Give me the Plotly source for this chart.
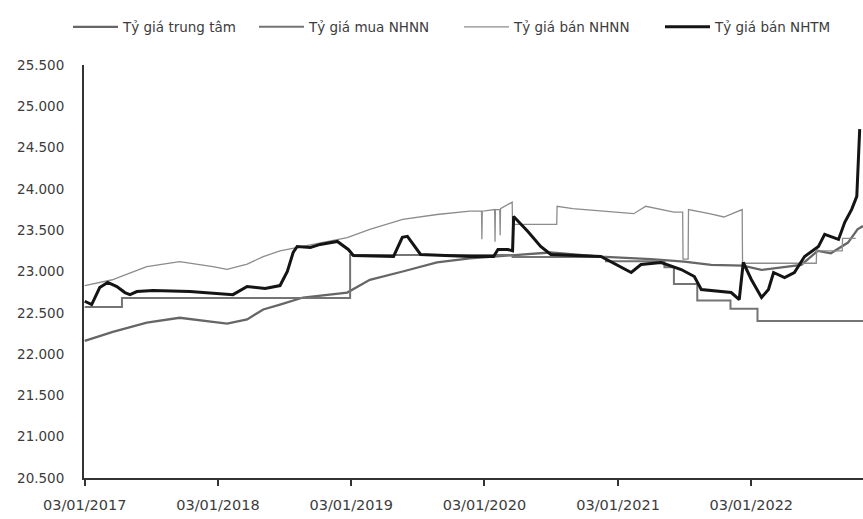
import plotly.graph_objects as go

# ---------------- data ----------------
series_names = ["Tỷ giá trung tâm", "Tỷ giá mua NHNN", "Tỷ giá bán NHNN", "Tỷ giá bán NHTM"]

central_dates = ["2017-01-03", "2017-03-21", "2017-06-22", "2017-09-20", "2017-12-20", "2018-01-28",
                 "2018-03-24", "2018-05-07", "2018-06-22", "2018-08-24", "2018-12-23", "2019-02-23",
                 "2019-05-24", "2019-08-26", "2019-11-24", "2020-03-22", "2020-07-01", "2020-11-16",
                 "2021-04-03", "2021-07-03", "2021-09-15", "2021-12-10", "2022-01-31", "2022-05-20",
                 "2022-07-04", "2022-08-09", "2022-09-25", "2022-10-21", "2022-11-05"]
central_vals = [22160, 22270, 22380, 22440, 22390, 22370,
                22420, 22540, 22600, 22685, 22745, 22900,
                23000, 23110, 23160, 23200, 23230, 23180,
                23150, 23120, 23080, 23070, 23020, 23080,
                23250, 23220, 23350, 23510, 23550]

buy_dates = ["2017-01-03", "2017-04-15", "2018-12-31", "2020-03-20", "2020-12-01", "2021-05-10",
             "2021-06-05", "2021-08-08", "2021-11-07", "2022-01-20", "2022-11-05"]
buy_vals = [22570, 22680, 23200, 23175, 23125, 23050,
            22850, 22650, 22550, 22400, 22400]

sell_dates = ["2017-01-03", "2017-03-20", "2017-04-13", "2017-06-22", "2017-09-20", "2017-12-20",
              "2018-01-28", "2018-03-24", "2018-05-07", "2018-06-22", "2018-12-23", "2019-02-23",
              "2019-05-24", "2019-08-26", "2019-11-24", "2019-12-26", "2019-12-27", "2019-12-28",
              "2020-01-31", "2020-02-01", "2020-02-02", "2020-02-14", "2020-02-15", "2020-02-16",
              "2020-03-19", "2020-03-20", "2020-07-19", "2020-07-20", "2020-09-01", "2020-12-01",
              "2021-02-15", "2021-03-20", "2021-06-05", "2021-06-29", "2021-06-30", "2021-07-14",
              "2021-07-15", "2021-09-10", "2021-10-20", "2021-12-09", "2021-12-10", "2022-06-30",
              "2022-07-01", "2022-09-09", "2022-09-10", "2022-10-16"]
sell_vals = [22830, 22900, 22940, 23060, 23120, 23060,
             23025, 23090, 23180, 23250, 23410, 23510,
             23630, 23690, 23730, 23730, 23390, 23730,
             23750, 23360, 23750, 23750, 23440, 23760,
             23840, 23570, 23570, 23790, 23760, 23730,
             23700, 23790, 23720, 23720, 23150, 23150,
             23750, 23700, 23660, 23750, 23100, 23100,
             23250, 23250, 23400, 23400]

nhtm_dates = ["2017-01-03", "2017-01-22", "2017-02-13", "2017-03-07", "2017-04-01", "2017-04-23",
              "2017-05-07", "2017-05-26", "2017-07-09", "2017-10-18", "2018-02-13", "2018-03-24",
              "2018-05-12", "2018-06-22", "2018-07-12", "2018-07-28", "2018-08-08", "2018-09-13",
              "2018-10-10", "2018-11-26", "2018-12-26", "2019-01-09", "2019-04-29", "2019-05-23",
              "2019-06-06", "2019-07-12", "2019-11-26", "2020-01-28", "2020-02-09", "2020-03-07",
              "2020-03-20", "2020-03-23", "2020-05-01", "2020-06-05", "2020-07-03", "2020-11-17",
              "2021-02-08", "2021-03-07", "2021-05-01", "2021-06-25", "2021-07-31", "2021-08-19",
              "2021-11-09", "2021-12-01", "2021-12-12", "2022-01-03", "2022-01-31", "2022-02-19",
              "2022-03-05", "2022-04-04", "2022-05-01", "2022-05-29", "2022-07-06", "2022-07-23",
              "2022-08-30", "2022-09-16", "2022-10-05", "2022-10-19", "2022-10-27"]
nhtm_vals = [22640, 22600, 22806, 22867, 22818, 22745,
             22720, 22757, 22770, 22757, 22720, 22818,
             22795, 22830, 23000, 23230, 23303, 23291,
             23328, 23364, 23267, 23194, 23182, 23413,
             23425, 23206, 23182, 23182, 23267, 23267,
             23250, 23667, 23485, 23303, 23206, 23182,
             22988, 23085, 23109, 23024, 22939, 22782,
             22745, 22660, 23109, 22903, 22685, 22782,
             22988, 22927, 22988, 23182, 23303, 23449,
             23388, 23595, 23752, 23910, 24723]

y_tick_vals = [20500, 21000, 21500, 22000, 22500, 23000, 23500, 24000, 24500, 25000, 25500]
y_tick_text = ["20.500", "21.000", "21.500", "22.000", "22.500", "23.000",
               "23.500", "24.000", "24.500", "25.000", "25.500"]
x_tick_vals = ["2017-01-03", "2018-01-03", "2019-01-03", "2020-01-03", "2021-01-03", "2022-01-03"]
x_tick_text = ["03/01/2017", "03/01/2018", "03/01/2019", "03/01/2020", "03/01/2021", "03/01/2022"]

# ---------------- figure ----------------
FONT = "DejaVu Sans"
W, H = 863, 519
ML, MR, MT, MB = 84, 0, 65, 41

fig = go.Figure()
fig.add_trace(go.Scatter(x=central_dates, y=central_vals, mode="lines", name=series_names[0],
                         line=dict(color="#666666", width=2.3), legend="legend", showlegend=True))
fig.add_trace(go.Scatter(x=buy_dates, y=buy_vals, mode="lines", name=series_names[1],
                         line=dict(color="#747474", width=2, shape="hv"), legend="legend2"))
fig.add_trace(go.Scatter(x=sell_dates, y=sell_vals, mode="lines", name=series_names[2],
                         line=dict(color="#8c8c8c", width=1.3), legend="legend3"))
fig.add_trace(go.Scatter(x=nhtm_dates, y=nhtm_vals, mode="lines", name=series_names[3],
                         line=dict(color="#141414", width=3), legend="legend4"))

leg_common = dict(orientation="h", xanchor="left", yanchor="middle", bgcolor="rgba(0,0,0,0)",
                  xref="container", yref="container",
                  font=dict(family=FONT, size=13.5, color="#3c3c3c"), itemwidth=45,
                  borderwidth=0)
leg_starts = [68, 254, 459, 660]
legends = {}
for i, key in enumerate(["legend", "legend2", "legend3", "legend4"]):
    legends[key] = dict(leg_common, x=leg_starts[i] / W, y=1 - 27 / H)

fig.update_layout(
    width=W, height=H,
    showlegend=True,
    margin=dict(l=ML, r=MR, t=MT, b=MB, pad=0),
    paper_bgcolor="white", plot_bgcolor="white",
    font=dict(family=FONT, color="#3c3c3c"),
    **legends,
)
fig.update_xaxes(type="date", range=["2017-01-01", "2022-11-05"],
                 tickvals=x_tick_vals, ticktext=x_tick_text, automargin=False,
                 showgrid=False, zeroline=False, showline=True, linecolor="#333333", linewidth=2,
                 ticks="outside", ticklen=6, tickcolor="#333333", tickwidth=1.5,
                 ticklabelstandoff=7,
                 tickfont=dict(family=FONT, size=14.5, color="#3c3c3c"))
fig.update_yaxes(range=[20500, 25500], tickvals=y_tick_vals, ticktext=y_tick_text,
                 automargin=False,
                 showgrid=False, zeroline=False, showline=True, linecolor="#333333", linewidth=2,
                 ticks="", ticklabelstandoff=15,
                 tickfont=dict(family=FONT, size=13.5, color="#3c3c3c"))

fig.write_html("out.html", config={"displayModeBar": False},
               post_script="document.documentElement.style.margin='0';document.body.style.margin='0';document.body.style.padding='0';")
